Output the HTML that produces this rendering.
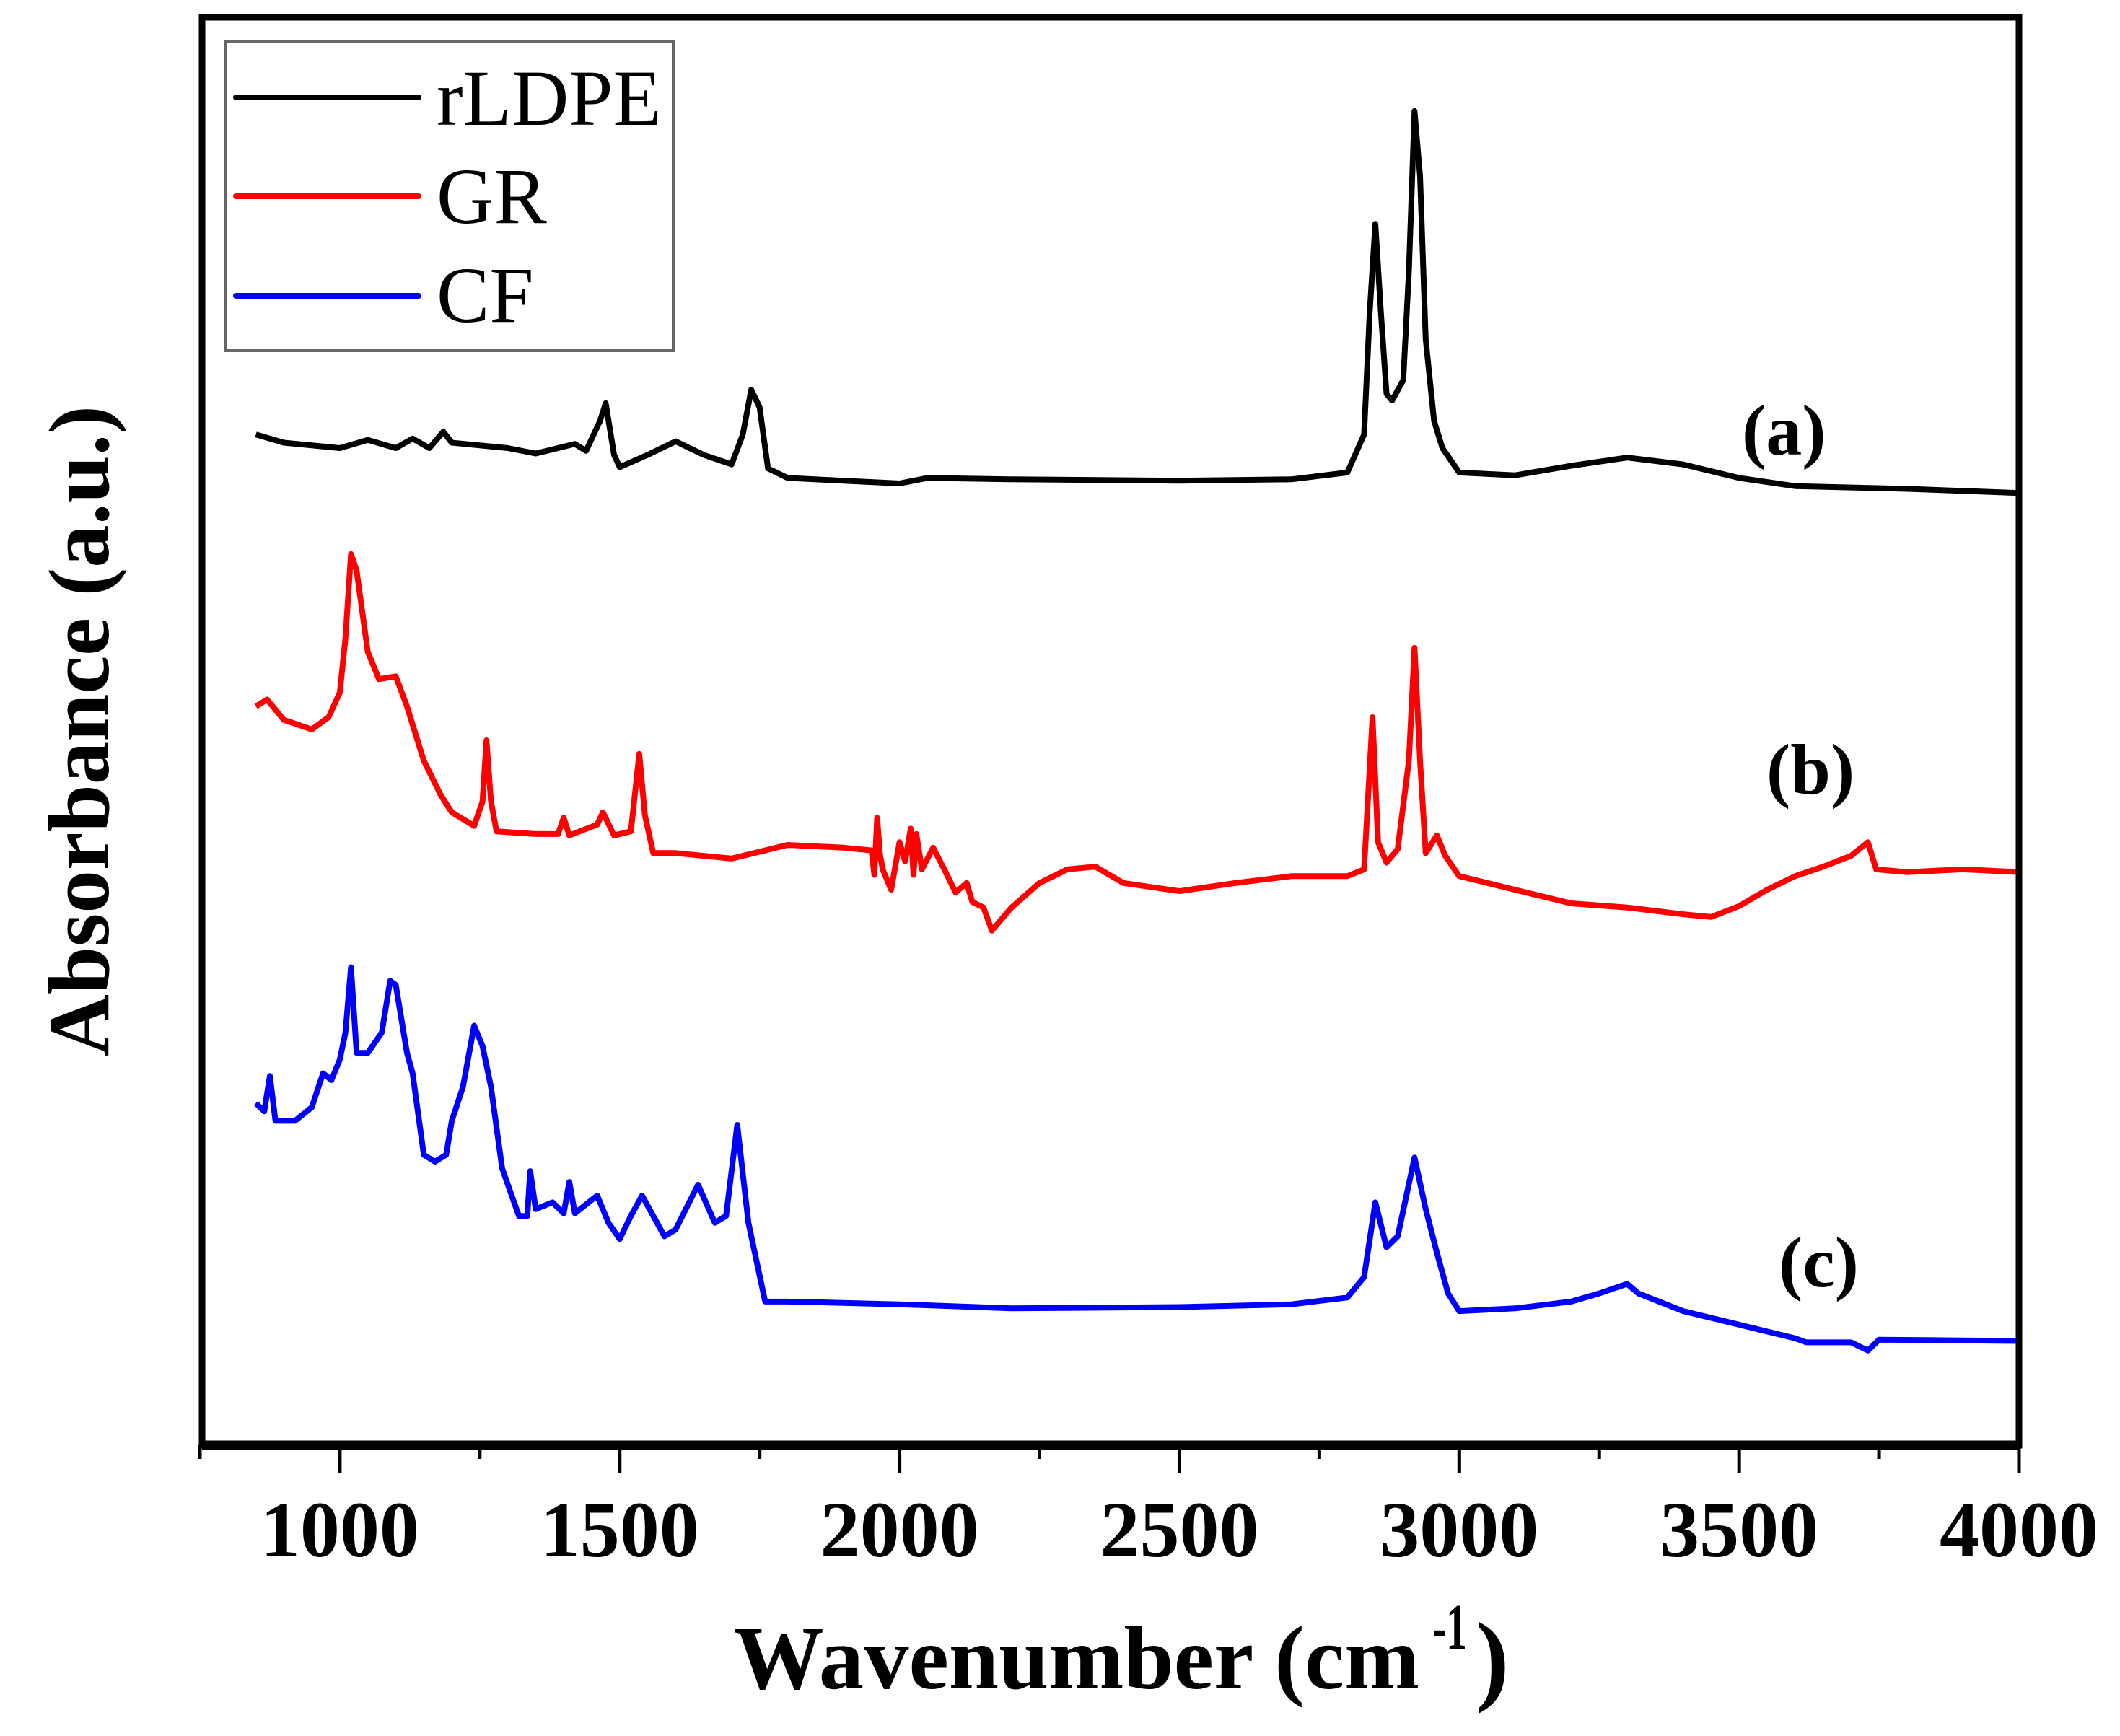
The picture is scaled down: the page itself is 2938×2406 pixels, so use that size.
<!DOCTYPE html>
<html><head><meta charset="utf-8"><style>
html,body{margin:0;padding:0;background:#fff;}
svg{display:block;}
text{font-family:"Liberation Serif",serif;}
</style></head><body>
<svg id="chart" width="2938" height="2406" viewBox="0 0 2938 2406" xmlns="http://www.w3.org/2000/svg">
<rect width="2938" height="2406" fill="#fff"/>
<g id="series"></g>
<rect x="280" y="24" width="2518" height="1979" fill="none" stroke="#000" stroke-width="9"/>
<line x1="280" y1="2003" x2="2798" y2="2003" stroke="#000" stroke-width="13"/>
<g id="ticks"></g>
<text x="1017" y="2340" font-size="125" font-weight="bold" textLength="950" lengthAdjust="spacingAndGlyphs">Wavenumber (cm</text>
<text x="1985" y="2285" font-size="90" font-weight="bold" textLength="48" lengthAdjust="spacingAndGlyphs">-1</text>
<text x="2045" y="2345" font-size="140" font-weight="bold">)</text>
<text transform="translate(150,1464) rotate(-90)" x="0" y="0" font-size="120" font-weight="bold" textLength="902" lengthAdjust="spacingAndGlyphs">Absorbance (a.u.)</text>
<g>
<rect x="313" y="58" width="620" height="428" fill="#fff" stroke="#666" stroke-width="4"/>
<line x1="327" y1="135" x2="580" y2="135" stroke="#000" stroke-width="8" stroke-linecap="round"/>
<text x="605" y="173" font-size="110">rLDPE</text>
<line x1="327" y1="272" x2="580" y2="272" stroke="#f00" stroke-width="8" stroke-linecap="round"/>
<text x="605" y="309" font-size="110">GR</text>
<line x1="327" y1="410" x2="580" y2="410" stroke="#00f" stroke-width="8" stroke-linecap="round"/>
<text x="605" y="446" font-size="110">CF</text>
</g>
<text x="2414" y="630" font-size="100" font-weight="bold">(a)</text>
<text x="2448" y="1100" font-size="100" font-weight="bold">(b)</text>
<text x="2465" y="1783" font-size="100" font-weight="bold">(c)</text>
</svg>
<script>
const xTicks = [1000,1500,2000,2500,3000,3500,4000];
const xMinor = [750,1250,1750,2250,2750,3250,3750];
const wnBlack = [850,900,1000,1050,1100,1130,1160,1185,1200,1300,1350,1420,1440,1465,1475,1490,1500,1550,1600,1650,1700,1720,1735,1750,1765,1800,1900,2000,2050,2200,2500,2700,2800,2830,2840,2850,2860,2870,2880,2900,2910,2920,2930,2940,2955,2970,3000,3100,3200,3300,3400,3500,3600,3800,4000];
const absBlack = [749,743,739,745,739,746,739,751,743,739,735,742,737,759,772,734,725,734,744,734,727,749,782,769,724,717,715,713,717,716,715,716,721,749,839,904,839,779,774,789,869,987,939,819,759,739,721,719,726,732,727,717,711,709,706];
const wnRed = [850,870,900,950,980,1000,1010,1020,1030,1050,1070,1100,1120,1150,1180,1200,1240,1255,1262,1270,1280,1350,1390,1400,1410,1460,1470,1490,1520,1535,1545,1560,1600,1700,1800,1900,1950,1955,1960,1965,1970,1985,2000,2010,2020,2025,2030,2040,2060,2080,2100,2120,2130,2150,2165,2200,2250,2300,2350,2400,2500,2600,2700,2800,2830,2845,2855,2870,2890,2910,2920,2930,2940,2960,2975,3000,3100,3200,3300,3400,3450,3500,3550,3600,3650,3700,3730,3745,3800,3900,4000];
const absRed = [549,554,539,532,541,559,599,661,649,589,569,571,549,509,484,471,461,479,524,479,457,455,455,467,454,462,471,454,457,514,469,441,441,437,447,445,443,425,467,440,429,414,449,435,459,425,455,429,445,429,412,419,405,401,384,401,419,429,431,419,413,419,424,424,429,541,449,434,444,509,592,509,441,454,439,424,414,404,401,396,394,402,414,424,431,439,449,429,427,429,427];
const wnBlue = [850,865,875,885,920,950,970,985,1000,1010,1020,1030,1050,1075,1090,1100,1120,1130,1150,1170,1190,1200,1220,1240,1255,1270,1290,1320,1335,1340,1350,1380,1400,1410,1420,1460,1480,1500,1520,1540,1560,1580,1600,1640,1670,1690,1710,1730,1760,1800,2000,2200,2500,2700,2800,2830,2850,2870,2890,2920,2940,2960,2980,3000,3100,3200,3250,3300,3320,3400,3500,3600,3620,3700,3730,3750,4000];
const absBlue = [257,251,277,244,244,254,279,274,289,309,357,294,294,309,347,344,294,279,219,214,219,244,269,314,299,269,209,174,174,207,179,184,176,199,176,189,169,157,174,189,174,159,164,197,169,174,241,169,111,111,109,106,107,109,114,129,184,151,159,217,179,147,117,104,106,111,117,124,117,104,94,84,81,81,75,83,82];

const X0=750, X1=4000, PX0=277, PX1=2798;
const Y0=0, Y1=1057, PY0=2013, PY1=22;
function xs(v){return PX0+(v-X0)/(X1-X0)*(PX1-PX0);}
function ys(v){return PY0+(v-Y0)/(Y1-Y0)*(PY1-PY0);}
const NS="http://www.w3.org/2000/svg";
const sg=document.getElementById('series');
function drawSeries(wn,ab,color,name){
  const p=document.createElementNS(NS,'path');
  let d='';
  for(let i=0;i<wn.length;i++){d+=(i?'L':'M')+xs(wn[i]).toFixed(1)+','+ys(ab[i]).toFixed(1);}
  p.setAttribute('d',d);
  p.setAttribute('fill','none');
  p.setAttribute('stroke',color);
  p.setAttribute('stroke-width','8');
  p.setAttribute('stroke-linejoin','round');
  
  
  sg.appendChild(p);
}
drawSeries(wnBlack,absBlack,'#000','series-rldpe');
drawSeries(wnRed,absRed,'#f00','series-gr');
drawSeries(wnBlue,absBlue,'#00f','series-cf');
const tg=document.getElementById('ticks');
xTicks.forEach(t=>{
  const l=document.createElementNS(NS,'line');
  l.setAttribute('x1',xs(t));l.setAttribute('x2',xs(t));
  l.setAttribute('y1',2003);l.setAttribute('y2',2042);
  l.setAttribute('stroke','#000');l.setAttribute('stroke-width','5');
  
  
  tg.appendChild(l);
  const tx=document.createElementNS(NS,'text');
  tx.setAttribute('x',xs(t));tx.setAttribute('y',2157);
  tx.setAttribute('text-anchor','middle');
  tx.setAttribute('font-size','110');tx.setAttribute('font-weight','bold');
  tx.textContent=t;
  
  
  tg.appendChild(tx);
});
xMinor.forEach(t=>{
  const l=document.createElementNS(NS,'line');
  l.setAttribute('x1',xs(t));l.setAttribute('x2',xs(t));
  l.setAttribute('y1',2003);l.setAttribute('y2',2022);
  l.setAttribute('stroke','#000');l.setAttribute('stroke-width','5');
  
  
  tg.appendChild(l);
});
</script>
</body></html>
